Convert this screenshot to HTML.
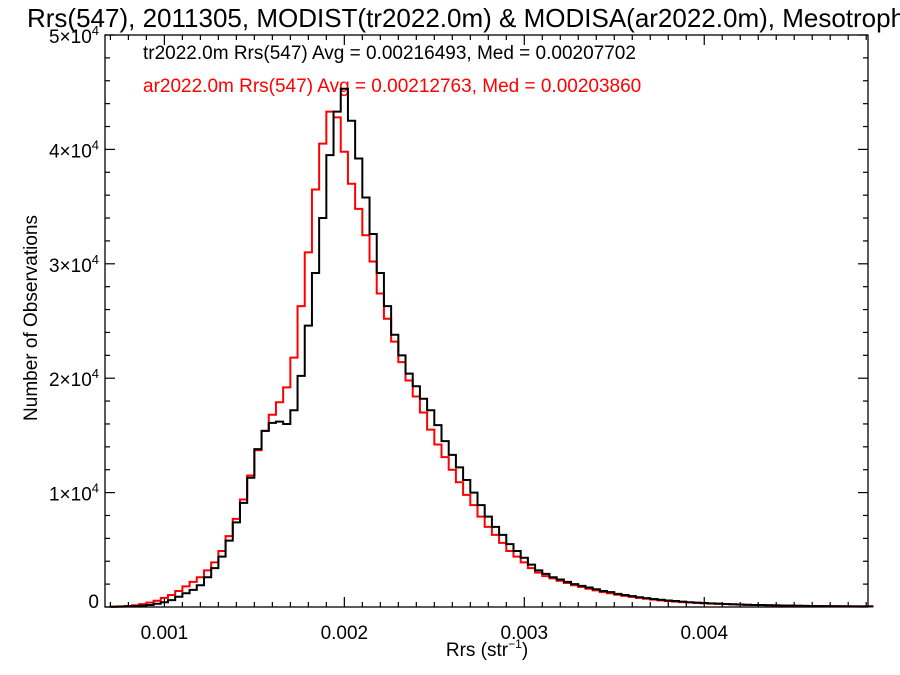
<!DOCTYPE html>
<html><head><meta charset="utf-8"><style>
body{margin:0;background:#fff;width:900px;height:675px;overflow:hidden}
svg{display:block;font-family:"Liberation Sans",sans-serif}
</style></head><body>
<svg id="c" width="900" height="675" xmlns="http://www.w3.org/2000/svg">
<text x="27" y="27" font-size="26" fill="#000">Rrs(547), 2011305, MODIST(tr2022.0m) &amp; MODISA(ar2022.0m), Mesotrophic</text>
<text x="143" y="59" font-size="19" fill="#000">tr2022.0m Rrs(547) Avg = 0.00216493, Med = 0.00207702</text>
<text x="143" y="92" font-size="19" fill="#ff0000">ar2022.0m Rrs(547) Avg = 0.00212763, Med = 0.00203860</text>
<text x="487" y="656" font-size="19" text-anchor="middle">Rrs (str<tspan dy="-8" font-size="12">−1</tspan><tspan dy="8">)</tspan></text>
<text transform="translate(37,318) rotate(-90)" font-size="19" text-anchor="middle">Number of Observations</text>
<g id="axes"></g>
<g id="series"></g>
</svg>
<script>
const binStart = 0.00070;
const binWidth = 0.00004;
const trCounts = [0.02,0.03,0.05,0.08,0.12,0.18,0.28,0.42,0.6,0.9,1.2,1.5,1.9,2.6,3.4,4.4,5.8,7.4,9.1,11.3,13.8,15.4,16.1,16.2,16.0,17.2,20.2,24.6,29.2,34.0,39.5,43.3,45.3,42.5,39.2,35.8,32.6,29.2,26.3,23.8,22.0,20.4,19.3,18.2,17.2,15.9,14.5,13.3,12.2,11.1,10.0,8.9,7.9,7.0,6.3,5.5,4.9,4.3,3.7,3.2,2.9,2.6,2.4,2.2,2.0,1.85,1.7,1.55,1.4,1.3,1.15,1.05,0.95,0.85,0.78,0.7,0.63,0.57,0.52,0.47,0.42,0.38,0.35,0.32,0.29,0.26,0.24,0.22,0.2,0.18,0.17,0.15,0.14,0.13,0.12,0.11,0.1,0.09,0.08,0.08,0.07,0.07,0.06,0.06,0.05,0.05];
const arCounts = [0.03,0.05,0.09,0.15,0.25,0.38,0.55,0.8,1.05,1.4,1.8,2.2,2.6,3.2,3.9,4.9,6.2,7.7,9.4,11.5,13.7,15.4,16.8,17.9,19.2,21.8,26.3,31.0,36.5,40.5,43.3,42.8,39.8,37.0,34.8,32.5,30.2,27.4,25.2,23.2,21.4,19.8,18.4,17.0,15.5,14.2,13.1,12.0,10.9,9.8,8.9,7.9,7.0,6.3,5.6,4.9,4.4,3.9,3.4,3.0,2.7,2.5,2.3,2.1,1.9,1.75,1.6,1.45,1.3,1.2,1.07,0.97,0.88,0.8,0.72,0.65,0.58,0.52,0.47,0.43,0.39,0.35,0.32,0.29,0.27,0.25,0.23,0.21,0.19,0.17,0.16,0.15,0.14,0.13,0.12,0.11,0.1,0.09,0.09,0.08,0.08,0.07,0.07,0.06,0.06,0.05];
const xTicks = [0.001,0.002,0.003,0.004];
const xTickLabels = ["0.001","0.002","0.003","0.004"];
const yTicks = [0,10000,20000,30000,40000,50000];
const yTickMant = ["0","1","2","3","4","5"];

const L=105,R=868,T=35,B=607;
const XMIN=0.00067,XMAX=0.00491,YMIN=0,YMAX=50000;
const sx=v=>L+(v-XMIN)/(XMAX-XMIN)*(R-L);
const sy=v=>B-(v-YMIN)/(YMAX-YMIN)*(B-T);
const NS="http://www.w3.org/2000/svg";
const axes=document.getElementById('axes');
function mk(tag,attrs,parent){const e=document.createElementNS(NS,tag);for(const k in attrs)e.setAttribute(k,attrs[k]);parent.appendChild(e);return e;}

const frame=mk('rect',{x:L,y:T,width:R-L,height:B-T,fill:'none',stroke:'#000','stroke-width':1.3},axes);



for(let k=7;k<=49;k++){
  const v=k*0.0001; const x=sx(v); if(x<L||x>R) continue;
  const major=(k%10===0); const len=major?10:5;
  const t1=mk('line',{x1:x,x2:x,y1:B,y2:B-len,stroke:'#000','stroke-width':1.2},axes);
  
  
  const t2=mk('line',{x1:x,x2:x,y1:T,y2:T+len,stroke:'#000','stroke-width':1.2},axes);
  
  
}
xTicks.forEach((v,i)=>{
  const t=mk('text',{x:sx(v),y:639,'font-size':19,'text-anchor':'middle'},axes);
  t.textContent=xTickLabels[i];
  
  
});
for(let v=0;v<=50000;v+=2000){
  const y=sy(v); const major=(v%10000===0); const len=major?10:5;
  const a=mk('line',{x1:L,x2:L+len,y1:y,y2:y,stroke:'#000','stroke-width':1.2},axes);
  
  
  const b=mk('line',{x1:R,x2:R-len,y1:y,y2:y,stroke:'#000','stroke-width':1.2},axes);
  
  
}
yTicks.forEach((v,i)=>{
  const t=mk('text',{x:99,y:sy(v)+(v===0?1:8),'font-size':19,'text-anchor':'end'},axes);
  
  
  if(v===0){t.textContent='0';}
  else{
    const s1=mk('tspan',{},t); s1.textContent=yTickMant[i]+'×10';
    const s2=mk('tspan',{dy:-8,'font-size':13},t); s2.textContent='4';
  }
});

const series=document.getElementById('series');
function drawHist(counts,color,name){
  let d='';
  counts.forEach((c,i)=>{
    const x0=sx(binStart+i*binWidth), x1=sx(binStart+(i+1)*binWidth), y=sy(c*1000);
    d+=(i===0?'M'+x0+','+sy(0)+' L'+x0+','+y:' L'+x0+','+y)+' L'+x1+','+y;
  });
  const p=mk('path',{d:d,fill:'none',stroke:color,'stroke-width':2},series);
  
  
}
drawHist(arCounts,'#ff0000','ar-histogram-line');
drawHist(trCounts,'#000000','tr-histogram-line');
</script>
</body></html>
